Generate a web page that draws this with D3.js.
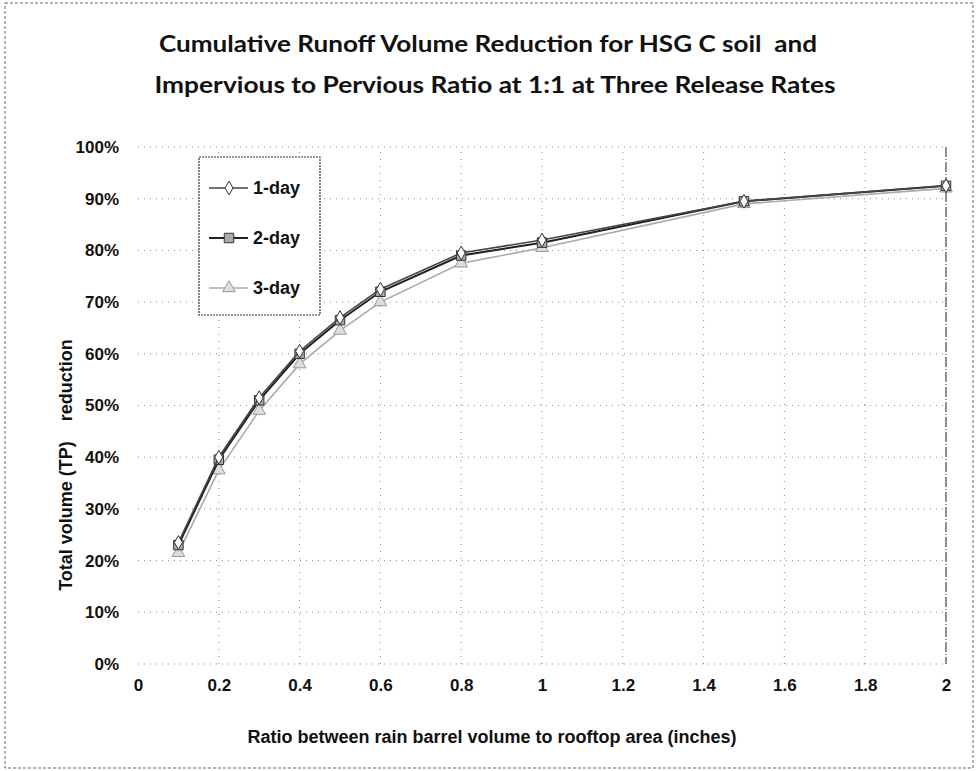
<!DOCTYPE html>
<html>
<head>
<meta charset="utf-8">
<script src="https://cdn.jsdelivr.net/npm/d3@7"></script>
<style>
  body { margin: 0; background: #fff; }
  svg { display: block; }
</style>
</head>
<body>
<svg id="chart" width="978" height="771"></svg>
<script>
// release rates
var seriesNames = ["1-day", "2-day", "3-day"];
// ratio between rain barrel volume and rooftop area (inches)
var ratios = [0.1, 0.2, 0.3, 0.4, 0.5, 0.6, 0.8, 1.0, 1.5, 2.0];
// cumulative runoff volume reduction (%)
var oneDay = [23.5, 40, 51.5, 60.5, 67, 72.5, 79.5, 82, 89.5, 92.5];
var twoDay = [23, 39.5, 51, 60, 66.5, 72, 79, 81.5, 89.5, 92.5];
var threeDay = [21.5, 37.5, 49, 58, 64.5, 70, 77.5, 80.5, 89, 92];
var xTicks = [0, 0.2, 0.4, 0.6, 0.8, 1, 1.2, 1.4, 1.6, 1.8, 2];
var yTicks = [0, 10, 20, 30, 40, 50, 60, 70, 80, 90, 100];

var svg = d3.select("#chart");
var font = "'Liberation Sans', Arial, sans-serif";

// outer chart border
svg.append("rect")
    .attr("x", 5).attr("y", 3)
    .attr("width", 968).attr("height", 765)
    .attr("fill", "none")
    .attr("stroke", "#666")
    .attr("stroke-width", 1)
    .attr("stroke-dasharray", "3 2");

var x = d3.scaleLinear().domain([0, 2]).range([138, 946]);
var y = d3.scaleLinear().domain([0, 100]).range([664, 147]);

// gridlines
svg.append("g")
    .selectAll("line.hgrid")
    .data(yTicks)
    .enter()
    .append("line")
    .attr("x1", x(0)).attr("x2", x(2))
    .attr("y1", function (d) { return y(d); })
    .attr("y2", function (d) { return y(d); })
    .attr("stroke", "#888")
    .attr("stroke-width", 1)
    .attr("stroke-dasharray", "1 5");
svg.append("g")
    .selectAll("line.vgrid")
    .data(xTicks.slice(1, -1))
    .enter()
    .append("line")
    .attr("y1", y(0)).attr("y2", y(100))
    .attr("x1", function (d) { return x(d); })
    .attr("x2", function (d) { return x(d); })
    .attr("stroke", "#888")
    .attr("stroke-width", 1)
    .attr("stroke-dasharray", "1 6");
// right edge of plot area
svg.append("line")
    .attr("x1", x(2)).attr("x2", x(2))
    .attr("y1", y(100)).attr("y2", y(0))
    .attr("stroke", "#222")
    .attr("stroke-width", 1)
    .attr("stroke-dasharray", "10 2 1 2");

// axes, tick labels only
var yAxis = d3.axisLeft(y).tickValues(yTicks).tickSize(0).tickPadding(19)
    .tickFormat(function (d) { return d + "%"; });
var yg = svg.append("g").attr("transform", "translate(" + x(0) + ",0)").call(yAxis);
var xAxis = d3.axisBottom(x).tickValues(xTicks).tickSize(0).tickPadding(15)
    .tickFormat(function (d) { return d; });
var xg = svg.append("g").attr("transform", "translate(0," + y(0) + ")").call(xAxis);
[yg, xg].forEach(function (g) {
    g.select(".domain").remove();
    g.selectAll("text")
        .attr("font-family", font)
        .attr("font-weight", "bold")
        .attr("font-size", 17)
        .attr("fill", "#111");
});

// series
var data = [
    { name: seriesNames[0], values: oneDay, line: "#444", width: 1.6, symbol: d3.symbolDiamond, size: 55, fill: "#fff", stroke: "#333" },
    { name: seriesNames[1], values: twoDay, line: "#222", width: 2, symbol: d3.symbolSquare, size: 90, fill: "#aaa", stroke: "#333" },
    { name: seriesNames[2], values: threeDay, line: "#aaa", width: 1.6, symbol: d3.symbolTriangle, size: 70, fill: "#ddd", stroke: "#999" }
];
var line = d3.line()
    .x(function (d) { return x(d[0]); })
    .y(function (d) { return y(d[1]); });

data.slice().reverse().forEach(function (s) {
    var pts = ratios.map(function (r, i) { return [r, s.values[i]]; });
    svg.append("path")
        .attr("d", line(pts))
        .attr("fill", "none")
        .attr("stroke", s.line)
        .attr("stroke-width", s.width);
    svg.append("g")
        .selectAll("path")
        .data(pts)
        .enter()
        .append("path")
        .attr("d", d3.symbol().type(s.symbol).size(s.size))
        .attr("transform", function (d) { return "translate(" + x(d[0]) + "," + y(d[1]) + ")"; })
        .attr("fill", s.fill)
        .attr("stroke", s.stroke)
        .attr("stroke-width", 1);
});

// legend
var legend = svg.append("g").attr("transform", "translate(199,157)");
legend.append("rect")
    .attr("width", 121).attr("height", 158)
    .attr("fill", "#fff")
    .attr("stroke", "#333")
    .attr("stroke-width", 1.2)
    .attr("stroke-dasharray", "2 1");
data.forEach(function (s, i) {
    var ly = 31 + i * 50;
    var row = legend.append("g").attr("transform", "translate(0," + ly + ")");
    row.append("line")
        .attr("x1", 10).attr("x2", 49)
        .attr("stroke", s.line)
        .attr("stroke-width", s.width);
    row.append("path")
        .attr("d", d3.symbol().type(s.symbol).size(s.size))
        .attr("transform", "translate(30,0)")
        .attr("fill", s.fill)
        .attr("stroke", s.stroke);
    row.append("text")
        .attr("x", 54).attr("y", 6)
        .attr("font-family", font)
        .attr("font-weight", "bold")
        .attr("font-size", 18)
        .attr("fill", "#111")
        .text(s.name);
});

// titles
var titleLines = ["Cumulative Runoff Volume Reduction for HSG C soil  and",
                  "Impervious to Pervious Ratio at 1:1 at Three Release Rates"];
svg.selectAll("text.title")
    .data(titleLines)
    .enter()
    .append("text")
    .attr("class", "title")
    .attr("x", function (d, i) { return i === 0 ? 488 : 495; })
    .attr("y", function (d, i) { return 52 + i * 41; })
    .attr("text-anchor", "middle")
    .attr("font-family", "Lato, 'Open Sans', sans-serif")
    .attr("font-weight", "bold")
    .attr("font-size", 22)
    .attr("fill", "#111")
    .attr("textLength", function (d, i) { return i === 0 ? 658 : 681; })
    .attr("lengthAdjust", "spacingAndGlyphs")
    .style("white-space", "pre")
    .text(function (d) { return d; });

svg.append("text")
    .attr("x", 492).attr("y", 743)
    .attr("text-anchor", "middle")
    .attr("font-family", font)
    .attr("font-weight", "bold")
    .attr("font-size", 18)
    .attr("fill", "#111")
    .text("Ratio between rain barrel volume to rooftop area (inches)");

svg.append("text")
    .attr("transform", "translate(72,465) rotate(-90)")
    .attr("text-anchor", "middle")
    .attr("font-family", font)
    .attr("font-weight", "bold")
    .attr("font-size", 18)
    .attr("fill", "#111")
    .style("white-space", "pre")
    .text("Total volume (TP)    reduction");
</script>
</body>
</html>
